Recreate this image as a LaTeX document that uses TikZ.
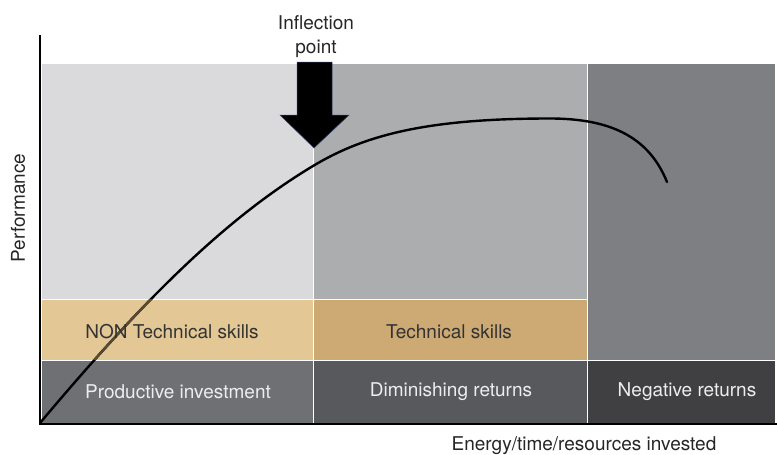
\documentclass[tikz,border=0pt]{standalone}
\usepackage{fontspec}
\setmainfont{TeX Gyre Heros}
\usepackage{tikz}
\usetikzlibrary{positioning,calc}
\definecolor{TopLeft}{HTML}{DADADC}
\definecolor{TopMid}{HTML}{ACADAF}
\definecolor{TopRight}{HTML}{7E7F83}
\definecolor{TanLeft}{HTML}{E3C896}
\definecolor{TanMid}{HTML}{CDAA74}
\definecolor{LowLeft}{HTML}{6F7074}
\definecolor{LowMid}{HTML}{58595D}
\definecolor{LowRight}{HTML}{404042}
\definecolor{ArrowEdge}{HTML}{34406A}
\definecolor{CurveTan}{HTML}{5A4A32}
\tikzset{chart layout/.style={%
    y=-1pt,
    x=1pt,
    every node/.style={%
        font=\fontsize{19}{21}\selectfont, inner sep=0pt
    }
}}
\tikzset{band/.style={%
    draw=white, line width=0.6pt
}}
\tikzset{dark label/.style={%
    text=black!80
}}
\tikzset{light label/.style={%
    text=white!93!black
}}
\tikzset{axis line/.style={%
    line width=2.6pt, black
}}
\tikzset{perf curve/.style={%
    line width=2.4pt, line cap=round
}}
\newcommand{\perfpath}{(40,423) .. controls (140,304) and (223,220) .. (313,166)
    .. controls (366,134) and (430,118.5) .. (550,118.5)
    .. controls (615,118.5) and (650,140) .. (667,182)}

\begin{document}
\begin{tikzpicture}[chart layout]
            \useasboundingbox (0,0) rectangle (777,455);
            % columns
            \fill[band, fill=TopLeft] (41,63) rectangle (313,299);
            \fill[band, fill=TopMid] (313,63) rectangle (587,299);
            \fill[band, fill=TopRight] (587,63) rectangle (775,360);
            \filldraw[band, fill=TanLeft] (41,299) rectangle (313,360);
            \filldraw[band, fill=TanMid] (313,299) rectangle (587,360);
            \filldraw[band, fill=LowLeft] (41,360) rectangle (313,424);
            \filldraw[band, fill=LowMid] (313,360) rectangle (587,424);
            \filldraw[band, fill=LowRight] (587,360) rectangle (775,424);
            \draw[white, line width=0.6pt] (313,63) -- (313,424);
            \draw[white, line width=0.6pt] (587,63) -- (587,424);

            % curve
            \draw[perf curve] \perfpath;
            \begin{scope}
                \clip (41,299.5) rectangle (313,359.5);
                \draw[perf curve, CurveTan] \perfpath;
            \end{scope}

            % band labels
            \node[dark label] (nontech) at (172,332) {NON Technical skills};
            \node[dark label] (tech) at (449,332) {Technical skills};
            \node[light label] (productive) at (178,392) {Productive investment};
            \node[light label] (diminishing) at (451,392) {Diminishing returns};
            \node[light label] (negative) at (687,392) {Negative returns};

            % axes
            \coordinate (origin) at (40,424);
            \coordinate (ytop) at (40,35);
            \coordinate (xend) at (777,424);
            \draw[axis line] (ytop) -- (origin) -- (xend);
            \node[rotate=90, text=black!85] (perf) at (18,208) {Performance};
            \node[text=black!85] (energy) at (584,446) {Energy/time/resources invested};

            % inflection arrow
            \filldraw[fill=black, draw=ArrowEdge, line width=0.5pt]
                (297,62) -- (332,62) -- (332,115) -- (349,115) -- (314,148) -- (280,115) -- (297,115) -- cycle;
            \node[align=center, text=black!85] (inflect) at (316,37) {Inflection\\[3pt]point};
        \end{tikzpicture}
\end{document}
